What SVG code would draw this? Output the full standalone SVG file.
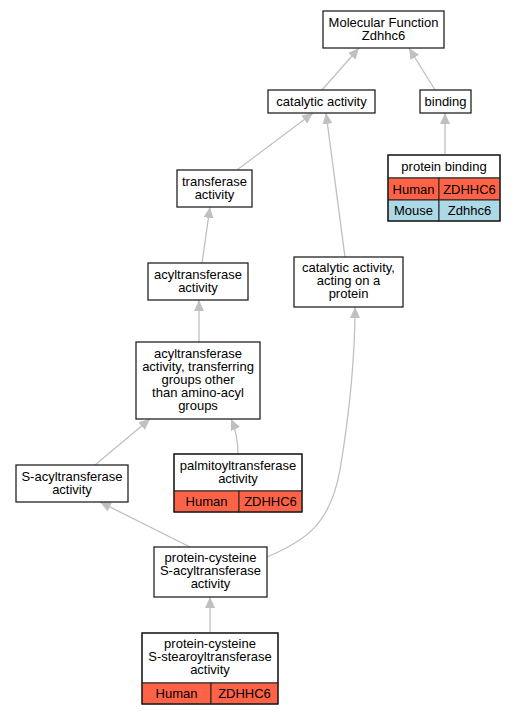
<svg xmlns="http://www.w3.org/2000/svg" width="515" height="715" viewBox="0 0 515 715">
<defs>
<marker id="arr" markerUnits="userSpaceOnUse" markerWidth="12" markerHeight="10" refX="11" refY="5" orient="auto">
<path d="M0,0 L11,5 L0,10 z" fill="#c0c0c0"/>
</marker>
<style>
.n{fill:#fff;stroke:#222;stroke-width:1.3}
.r{fill:#ff6347;stroke:#222;stroke-width:1}
.b{fill:#add8e6;stroke:#222;stroke-width:1}
.w{fill:#fff;stroke:#222;stroke-width:1}
.o{fill:none;stroke:#222;stroke-width:1.3}
text{font-family:"Liberation Sans",Arial,sans-serif;font-size:13px;text-anchor:middle;fill:#000}
.e path{fill:none;stroke:#c0c0c0;stroke-width:1.3;marker-end:url(#arr)}
</style>
</defs>
<rect width="515" height="715" fill="#fff"/>
<g class="e" id="edges">
<path d="M322,90 L359,48"/>
<path d="M435,90 L409,48"/>
<path d="M445,155 L445,113"/>
<path d="M237,170 L313,113"/>
<path d="M345,257 L326,113"/>
<path d="M202,263 L210,207"/>
<path d="M199,342 L199,300"/>
<path d="M95,465 L150,419"/>
<path d="M238,454 C238,440 235,428 231,419"/>
<path d="M190,547 L100,502"/>
<path d="M267,557 C305,541 330,525 340,470 C350,410 355,350 355,307"/>
<path d="M210,633 L210,597"/>
</g>
<g id="mf"><rect class="n" x="323" y="11" width="121" height="37"/><text x="383.5" y="26.5">Molecular Function</text><text x="383.5" y="39.5">Zdhhc6</text></g>
<g id="cat"><rect class="n" x="268" y="90" width="107" height="23"/><text x="321.5" y="106">catalytic activity</text></g>
<g id="binding"><rect class="n" x="420" y="90" width="51" height="23"/><text x="445.5" y="106">binding</text></g>
<g id="pbind">
<rect class="w" x="388" y="155" width="112" height="23"/><text x="444" y="171">protein binding</text>
<rect class="r" x="388" y="178" width="51" height="22"/><rect class="r" x="439" y="178" width="61" height="22"/>
<text x="413.5" y="193.5">Human</text><text x="469.5" y="193.5">ZDHHC6</text>
<rect class="b" x="388" y="200" width="51" height="21"/><rect class="b" x="439" y="200" width="61" height="21"/>
<text x="413.5" y="215">Mouse</text><text x="469.5" y="215">Zdhhc6</text>
<rect class="o" x="388" y="155" width="112" height="66"/>
</g>
<g id="transf"><rect class="n" x="177" y="170" width="75" height="37"/><text x="214.5" y="185.5">transferase</text><text x="214.5" y="198.5">activity</text></g>
<g id="acyl"><rect class="n" x="148" y="263" width="100" height="37"/><text x="198" y="278.5">acyltransferase</text><text x="198" y="291.5">activity</text></g>
<g id="catprot"><rect class="n" x="294" y="257" width="109" height="50"/><text x="348.5" y="272">catalytic activity,</text><text x="348.5" y="285">acting on a</text><text x="348.5" y="298">protein</text></g>
<g id="acyltr"><rect class="n" x="136" y="342" width="124" height="77"/><text x="198" y="358">acyltransferase</text><text x="198" y="371">activity, transferring</text><text x="198" y="384">groups other</text><text x="198" y="397">than amino-acyl</text><text x="198" y="410">groups</text></g>
<g id="sacyl"><rect class="n" x="16" y="465" width="112" height="37"/><text x="72" y="480.5">S-acyltransferase</text><text x="72" y="493.5">activity</text></g>
<g id="palm">
<rect class="w" x="174" y="454" width="128" height="37"/><text x="238" y="469.5">palmitoyltransferase</text><text x="238" y="482.5">activity</text>
<rect class="r" x="174" y="491" width="65" height="21"/><rect class="r" x="239" y="491" width="63" height="21"/>
<text x="206.5" y="506">Human</text><text x="270.5" y="506">ZDHHC6</text>
<rect class="o" x="174" y="454" width="128" height="58"/>
</g>
<g id="pcsacyl"><rect class="n" x="154" y="547" width="113" height="50"/><text x="210.5" y="561.5">protein-cysteine</text><text x="210.5" y="574.5">S-acyltransferase</text><text x="210.5" y="587.5">activity</text></g>
<g id="stear">
<rect class="w" x="142" y="633" width="136" height="50"/><text x="210" y="648">protein-cysteine</text><text x="210" y="661">S-stearoyltransferase</text><text x="210" y="674">activity</text>
<rect class="r" x="142" y="683" width="69" height="21"/><rect class="r" x="211" y="683" width="67" height="21"/>
<text x="176.5" y="698">Human</text><text x="244.5" y="698">ZDHHC6</text>
<rect class="o" x="142" y="633" width="136" height="71"/>
</g>
</svg>
